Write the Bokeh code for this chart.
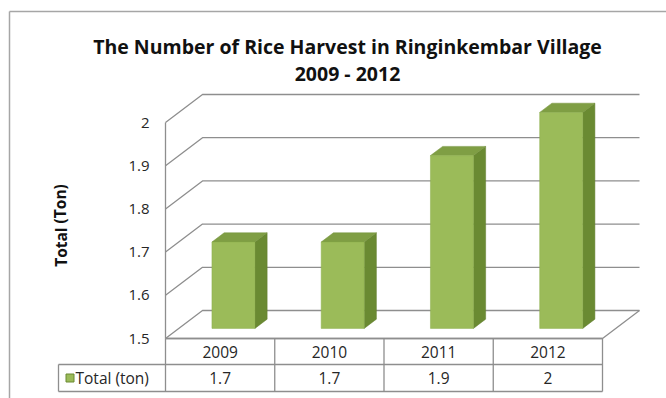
from bokeh.plotting import figure
from bokeh.models import Range1d
from bokeh.core.properties import value
from bokeh.embed import file_html
from bokeh.resources import INLINE

# ---- data ----
years = ["2009", "2010", "2011", "2012"]
totals = [1.7, 1.7, 1.9, 2.0]
y_ticks = [1.5, 1.6, 1.7, 1.8, 1.9, 2.0]
y_tick_labels = ["1.5", "1.6", "1.7", "1.8", "1.9", "2"]
total_labels = ["1.7", "1.7", "1.9", "2"]
series_name = "Total (ton)"
axis_title = "Total (Ton)"
title_lines = ["The Number of Rice Harvest in Ringinkembar Village", "2009 - 2012"]

# ---- layout (pixel geometry of the pseudo-3D frame) ----
W, H = 666, 398
PX0, PX_PER_CAT = 165.0, 109.25      # front-left x pixel, pixels per category
PY0, PY_PER_VAL = 338.0, 432.0       # pixel of y=1.5 (from top), pixels per unit
YMIN = y_ticks[0]
DX = 37.0 / PX_PER_CAT               # depth offset in category units
DY = 28.0 / PY_PER_VAL               # depth offset in value units
D0, D1 = 0.36, 0.69                  # bar front / back depth fraction
BW = 43.0 / PX_PER_CAT               # bar width (category units)
NCAT = len(years)

def lx(px):
    return (px - PX0) / PX_PER_CAT

def ly(py):
    return YMIN + (PY0 - py) / PY_PER_VAL

p = figure(width=W, height=H, output_backend="svg", toolbar_location=None,
           x_range=Range1d(lx(0), lx(W)), y_range=Range1d(ly(H), ly(0)),
           min_border=0, outline_line_color=None)
p.axis.visible = False
p.grid.visible = False
p.background_fill_color = "white"
p.border_fill_color = "white"

GRID = "#8E8E8E"
FONT = "Open Sans"
TXT = "#262626"

# chart outer border (left and top)
p.multi_line(xs=[[lx(9), lx(9)], [lx(9), lx(W + 5)]],
             ys=[[ly(H + 5), ly(11)], [ly(11), ly(11)]],
             line_color="#A6A6A6", line_width=1.5)

# gridlines: left wall diagonals + back wall horizontals
xs, ys = [], []
for t in y_ticks:
    xs.append([0, DX, NCAT + DX])
    ys.append([t, t + DY, t + DY])
# floor front + right diagonal, front-left vertical axis
xs.append([0, NCAT, NCAT + DX]); ys.append([YMIN, YMIN, YMIN + DY])
xs.append([0, 0]); ys.append([YMIN, y_ticks[-1]])
p.multi_line(xs=xs, ys=ys, line_color=GRID, line_width=1.3)

# bars
fx_l, fx_r, fy_b, fy_t = [], [], [], []
side_xs, side_ys, top_xs, top_ys = [], [], [], []
for i, v in enumerate(totals):
    c = i + 0.5
    xl = c - BW / 2 + DX * D0
    xr = c + BW / 2 + DX * D0
    yb = YMIN + DY * D0
    yt = v + DY * D0
    ddx, ddy = DX * (D1 - D0), DY * (D1 - D0)
    fx_l.append(xl); fx_r.append(xr); fy_b.append(yb); fy_t.append(yt)
    side_xs.append([xr, xr + ddx, xr + ddx, xr])
    side_ys.append([yb, yb + ddy, yt + ddy, yt])
    top_xs.append([xl, xr, xr + ddx, xl + ddx])
    top_ys.append([yt, yt, yt + ddy, yt + ddy])

p.patches(xs=side_xs, ys=side_ys, fill_color="#6A8A32", line_color="#647F30", line_width=0.5)
p.patches(xs=top_xs, ys=top_ys, fill_color="#7F9E44", line_color="#75933D", line_width=0.5)
p.quad(left=fx_l, right=fx_r, bottom=fy_b, top=fy_t,
       fill_color="#9BBB59", line_color="#8DAE4C", line_width=0.5)

# y tick labels
p.text(x=[lx(149)] * len(y_ticks), y=y_ticks, text=y_tick_labels,
       text_align="right", text_baseline="middle",
       text_font=value(FONT), text_font_size="15px", text_color=TXT)

# axis title
p.text(x=[lx(60)], y=[ly(225)], text=[axis_title], angle=1.5708,
       text_align="center", text_baseline="middle",
       text_font=value(FONT), text_font_size="15.5px", text_font_style="bold",
       text_color="#111111")

# title
p.text(x=[lx(347), lx(347)], y=[ly(46), ly(73)], text=title_lines,
       text_align="center", text_baseline="middle",
       text_font=value(FONT), text_font_size="19.5px", text_font_style="bold",
       text_color="#111111")

# data table
row1_b, row2_b, leg_l = ly(364), ly(391), lx(58)
TAB = "#8E8E8E"
txs = [[0, NCAT], [leg_l, NCAT], [leg_l, NCAT], [leg_l, leg_l]]
tys = [[YMIN, YMIN], [row1_b, row1_b], [row2_b, row2_b], [row1_b, row2_b]]
for k in range(NCAT + 1):
    txs.append([k, k]); tys.append([YMIN, row2_b])
p.multi_line(xs=txs, ys=tys, line_color=TAB, line_width=1.3)

cats_c = [i + 0.5 for i in range(NCAT)]
p.text(x=cats_c, y=[(YMIN + row1_b) / 2] * NCAT, text=years,
       text_align="center", text_baseline="middle",
       text_font=value(FONT), text_font_size="15.5px", text_color=TXT)
p.text(x=cats_c, y=[(row1_b + row2_b) / 2] * NCAT, text=total_labels,
       text_align="center", text_baseline="middle",
       text_font=value(FONT), text_font_size="15.5px", text_color=TXT)

# legend key + series name
p.scatter(x=[lx(69.5)], y=[(row1_b + row2_b) / 2], marker="square", size=8,
          fill_color="#9BBB59", line_color="#6A8A32", line_width=1)
p.text(x=[lx(75)], y=[(row1_b + row2_b) / 2], text=[series_name],
       text_align="left", text_baseline="middle",
       text_font=value(FONT), text_font_size="15.5px", text_color=TXT)

open("out.html", "w").write(file_html(p, INLINE))
